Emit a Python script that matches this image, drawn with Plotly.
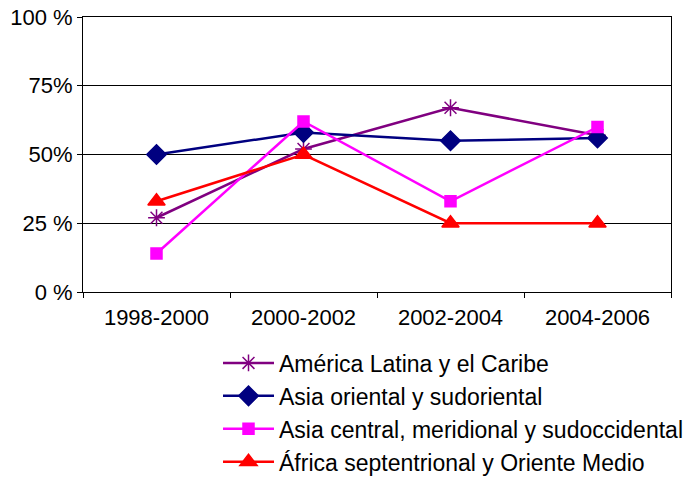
import plotly.graph_objects as go

periods = ["1998-2000", "2000-2002", "2002-2004", "2004-2006"]

america_latina = [27, 52, 67, 57]
asia_oriental = [50, 58, 55, 56]
asia_central = [14, 62, 33, 60]
africa_norte = [33, 50, 25, 25]

y_ticks = [0, 25, 50, 75, 100]
y_tick_labels = ["0 %", "25 %", "50%", "75%", "100 %"]

series = [
    ("América Latina y el Caribe", america_latina, "#800080", "asterisk-open", 14),
    ("Asia oriental y sudoriental", asia_oriental, "#000080", "diamond", 15),
    ("Asia central, meridional y sudoccidental", asia_central, "#FF00FF", "square", 11),
    ("África septentrional y Oriente Medio", africa_norte, "#FF0000", "triangle-up", 15),
]

fig = go.Figure()
for name, vals, color, symbol, size in series:
    fig.add_trace(go.Scatter(
        x=periods, y=vals, name=name, mode="lines+markers",
        line=dict(color=color, width=2.5),
        marker=dict(symbol=symbol, size=size, color=color,
                    line=dict(color=color, width=1.5)),
    ))

axis_font = dict(family="Liberation Sans, Arial, sans-serif", size=22, color="#000000")
legend_font = dict(family="Liberation Sans, Arial, sans-serif", size=23, color="#000000")

fig.update_layout(
    width=690, height=477,
    margin=dict(l=83, r=19, t=17, b=185, autoexpand=False),
    paper_bgcolor="white", plot_bgcolor="white",
    font=axis_font,
    showlegend=True,
    legend=dict(x=0.2296, y=-0.18, xanchor="left", yanchor="top",
                itemwidth=51,
                bgcolor="rgba(0,0,0,0)", font=legend_font, tracegroupgap=0),
    xaxis=dict(type="category", range=[-0.5, 3.5], tickson="boundaries",
               ticks="outside", ticklen=5, tickcolor="#000", tickwidth=1,
               ticklabelstandoff=6,
               showline=True, linecolor="#000", linewidth=1, mirror=True,
               showgrid=False, tickfont=axis_font),
    yaxis=dict(range=[0, 100], tickvals=y_ticks, ticktext=y_tick_labels,
               ticks="outside", ticklen=5, tickcolor="#000", tickwidth=1,
               showline=True, linecolor="#000", linewidth=1, mirror=True,
               showgrid=True, gridcolor="#000", gridwidth=1,
               zeroline=False, tickfont=axis_font),
)

fig.write_html("out.html")
